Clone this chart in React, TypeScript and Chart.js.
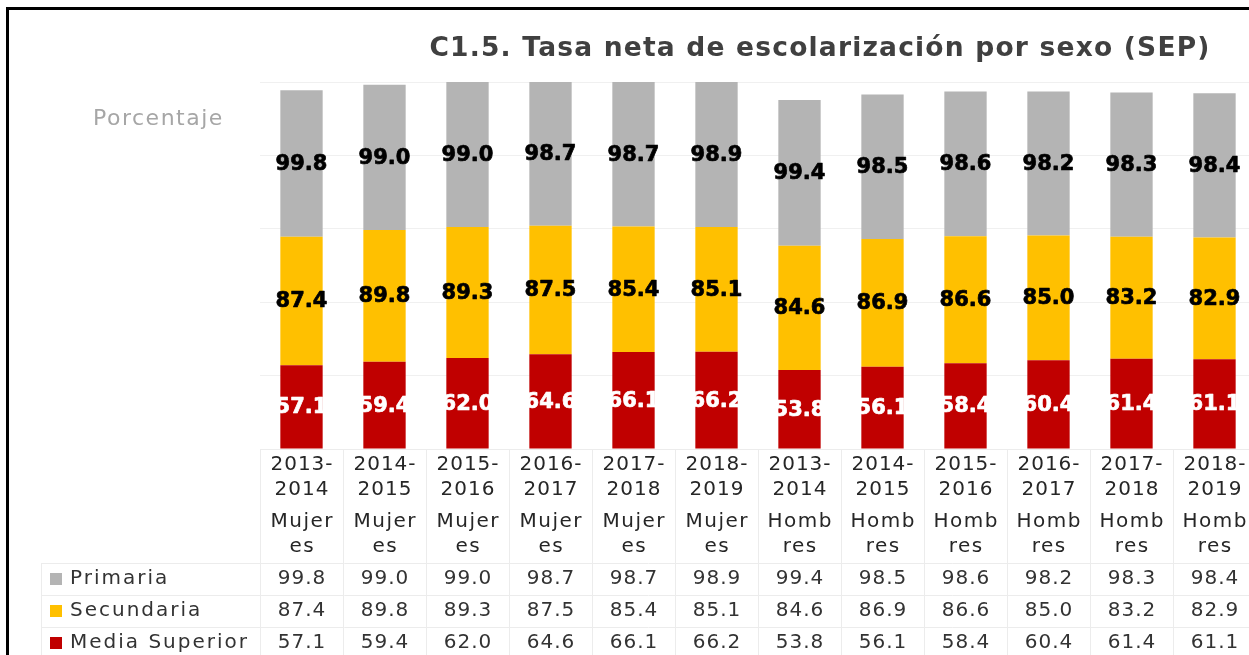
import React, { useEffect, useRef } from "react";
import { Chart, registerables } from "chart.js";

Chart.register(...registerables);

// ---- Data ----
const periods = [
  "2013-2014", "2014-2015", "2015-2016", "2016-2017", "2017-2018", "2018-2019",
  "2013-2014", "2014-2015", "2015-2016", "2016-2017", "2017-2018", "2018-2019",
];
const sexes = [
  "Mujeres", "Mujeres", "Mujeres", "Mujeres", "Mujeres", "Mujeres",
  "Hombres", "Hombres", "Hombres", "Hombres", "Hombres", "Hombres",
];
// how the sex label wraps inside the narrow table column
const sexWrap: Record<string, string[]> = {
  Mujeres: ["Mujer", "es"],
  Hombres: ["Homb", "res"],
};
const primaria = [99.8, 99.0, 99.0, 98.7, 98.7, 98.9, 99.4, 98.5, 98.6, 98.2, 98.3, 98.4];
const secundaria = [87.4, 89.8, 89.3, 87.5, 85.4, 85.1, 84.6, 86.9, 86.6, 85.0, 83.2, 82.9];
const mediaSuperior = [57.1, 59.4, 62.0, 64.6, 66.1, 66.2, 53.8, 56.1, 58.4, 60.4, 61.4, 61.1];
const seriesNames = ["Primaria", "Secundaria", "Media Superior"];
const title = "C1.5. Tasa neta de escolarización por sexo (SEP)";
const axisTitle = "Porcentaje";

const COLORS = {
  primaria: "#b4b4b4",
  secundaria: "#ffc000",
  media: "#c00000",
};

const FONT = "'DejaVu Sans', 'Open Sans', sans-serif";

const tablePlugin = {
  id: "tableAndTexts",
  afterDatasetsDraw(chart: any) {
    const ctx = chart.ctx as CanvasRenderingContext2D;
    const area = chart.chartArea;
    ctx.save();
    ctx.font = `bold 21px ${FONT}`;
    ctx.textAlign = "center";
    ctx.textBaseline = "middle";
    ctx.lineWidth = 0.7;
    ctx.lineJoin = "round";
    chart.data.datasets.forEach((ds: any, i: number) => {
      const meta = chart.getDatasetMeta(i);
      meta.data.forEach((el: any, j: number) => {
        const p = el.getProps(["x", "y", "base"], true);
        const top = Math.max(Math.min(p.y, p.base), area.top);
        const bot = Math.max(p.y, p.base);
        const text = Number(ds.data[j]).toFixed(1);
        const cy = (top + bot) / 2 + 1;
        ctx.fillStyle = ds.labelColor;
        ctx.strokeStyle = ds.labelColor;
        ctx.fillText(text, p.x, cy);
        ctx.strokeText(text, p.x, cy);
      });
    });
    ctx.restore();
  },
  afterDraw(chart: any) {
    const ctx = chart.ctx as CanvasRenderingContext2D;
    const area = chart.chartArea;
    const xs = chart.scales.x;
    const n = chart.data.labels.length;
    const colW = xs.getPixelForValue(1) - xs.getPixelForValue(0);
    const left = area.left;
    const right = left + n * colW;
    const y0 = area.bottom;
    const headH = 114;
    const rowH = 32;
    const legLeft = 41;
    const canvasH = chart.height;

    ctx.save();
    // frame
    ctx.strokeStyle = "#000";
    ctx.lineWidth = 3;
    ctx.beginPath();
    ctx.moveTo(7.5, canvasH + 10);
    ctx.lineTo(7.5, 8.5);
    ctx.lineTo(chart.width + 10, 8.5);
    ctx.stroke();

    // table grid
    ctx.strokeStyle = "#ececec";
    ctx.lineWidth = 1;
    ctx.beginPath();
    ctx.moveTo(left, y0 + 0.5);
    ctx.lineTo(right, y0 + 0.5);
    for (let r = 0; r <= 3; r++) {
      const y = Math.round(y0 + headH + r * rowH) + 0.5;
      ctx.moveTo(legLeft, y);
      ctx.lineTo(right, y);
    }
    for (let k = 0; k <= n; k++) {
      const x = Math.round(left + k * colW) + 0.5;
      ctx.moveTo(x, y0);
      ctx.lineTo(x, canvasH);
    }
    ctx.moveTo(legLeft + 0.5, y0 + headH);
    ctx.lineTo(legLeft + 0.5, canvasH);
    ctx.stroke();

    // header labels
    ctx.fillStyle = "#262626";
    ctx.textAlign = "center";
    ctx.textBaseline = "middle";
    ctx.font = `20px ${FONT}`;
    for (let j = 0; j < n; j++) {
      const cx = xs.getPixelForValue(j);
      const parts = periods[j].split("-");
      const lines = [parts[0] + "-", parts[1], ...sexWrap[sexes[j]]];
      const ys = [16, 41, 73, 98];
      lines.forEach((t, li) => {
        (ctx as any).letterSpacing = li < 2 ? "1px" : "1.5px";
        ctx.fillText(t, cx + (li < 2 ? 0.5 : 0.75), y0 + ys[li]);
      });
    }

    // rows
    const rowData = [primaria, secundaria, mediaSuperior];
    const rowColors = [COLORS.primaria, COLORS.secundaria, COLORS.media];
    for (let r = 0; r < 3; r++) {
      const cy = y0 + headH + r * rowH + rowH / 2;
      ctx.fillStyle = rowColors[r];
      ctx.fillRect(50, Math.round(cy - 6), 12, 12);
      ctx.fillStyle = "#333";
      ctx.textAlign = "left";
      (ctx as any).letterSpacing = "2px";
      ctx.fillText(seriesNames[r], 70, cy);
      ctx.textAlign = "center";
      (ctx as any).letterSpacing = "1px";
      for (let j = 0; j < n; j++) {
        ctx.fillText(rowData[r][j].toFixed(1), xs.getPixelForValue(j) + 0.5, cy);
      }
    }

    // axis title
    (ctx as any).letterSpacing = "1.5px";
    ctx.fillStyle = "#a6a6a6";
    ctx.font = `22px ${FONT}`;
    ctx.textAlign = "left";
    ctx.fillText(axisTitle, 93, 119);

    // chart title
    (ctx as any).letterSpacing = "1.2px";
    ctx.fillStyle = "#404040";
    ctx.font = `bold 26.5px ${FONT}`;
    ctx.textAlign = "center";
    ctx.fillText(title, 820, 49);
    ctx.restore();
  },
};

export default function App() {
  const ref = useRef<HTMLCanvasElement | null>(null);

  useEffect(() => {
    if (!ref.current) return;
    const labels = periods.map((p, i) => `${p} ${sexes[i]}`);
    const chart = new Chart(ref.current, {
      type: "bar",
      data: {
        labels,
        datasets: [
          {
            label: "Media Superior",
            data: mediaSuperior,
            backgroundColor: COLORS.media,
            labelColor: "#ffffff",
          } as any,
          {
            label: "Secundaria",
            data: secundaria,
            backgroundColor: COLORS.secundaria,
            labelColor: "#000000",
          } as any,
          {
            label: "Primaria",
            data: primaria,
            backgroundColor: COLORS.primaria,
            labelColor: "#000000",
          } as any,
        ],
      },
      options: {
        responsive: false,
        animation: false,
        devicePixelRatio: 1,
        layout: { padding: { left: 260, right: 10, top: 82, bottom: 211 } },
        datasets: {
          bar: { categoryPercentage: 1, barPercentage: 0.51, borderWidth: 0 },
        },
        scales: {
          x: { stacked: true, display: false },
          y: {
            stacked: true,
            min: 0,
            max: 250,
            ticks: { display: false, stepSize: 50 },
            grid: { color: "#f0f0f0", drawTicks: false },
            border: { display: false },
          },
        },
        plugins: {
          legend: { display: false },
          tooltip: { enabled: false },
          title: { display: false },
        },
      },
      plugins: [tablePlugin],
    });
    return () => chart.destroy();
  }, []);

  return (
    <div
      style={{
        position: "fixed",
        left: 0,
        top: 0,
        width: 1249,
        height: 655,
        overflow: "hidden",
        background: "#ffffff",
      }}
    >
      <canvas ref={ref} width={1266} height={660} style={{ display: "block" }} />
    </div>
  );
}
